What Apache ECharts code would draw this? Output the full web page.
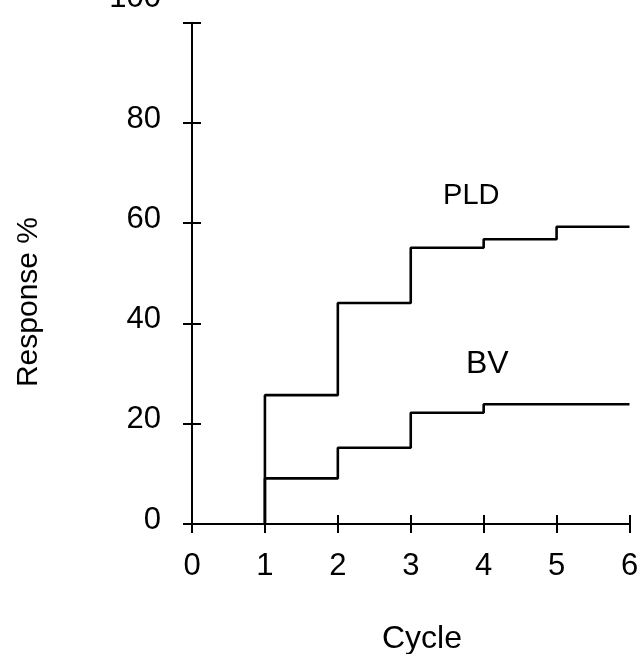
<!DOCTYPE html>
<html>
<head>
<meta charset="utf-8">
<script src="https://cdn.jsdelivr.net/npm/echarts@6/dist/echarts.min.js"></script>
<style>
html,body{margin:0;padding:0;background:#fff;}
#c{width:641px;height:654px;}
</style>
</head>
<body>
<div id="c"></div>
<script>
// Data
var cycles = [1, 2, 3, 4, 5, 6];
var pldResponse = [25.7, 44.1, 55.1, 56.8, 59.3, 59.3];
var bvResponse = [9.1, 15.2, 22.2, 23.9, 23.9, 23.9];
var yTicks = [0, 20, 40, 60, 80, 100];
var xTicks = [0, 1, 2, 3, 4, 5, 6];
var seriesNames = ['PLD', 'BV'];
var labelPos = { PLD: [3.83, 65.5], BV: [4.05, 31.8] };

var FONT = '"Liberation Sans", Arial, Helvetica, sans-serif';

function stepData(vals) {
  var d = [[cycles[0], 0]];
  for (var i = 0; i < cycles.length; i++) d.push([cycles[i], vals[i]]);
  return d;
}

var chart = echarts.init(document.getElementById('c'), null, { renderer: 'canvas' });

var axisLineStyle = { color: '#000', width: 2 };
var common = { type: 'value', splitLine: { show: false } };

function seriesLabel(name, pos, size) {
  return {
    symbol: 'circle', symbolSize: 2,
    itemStyle: { color: 'rgba(0,0,0,0)' },
    data: [{ coord: pos, value: name }],
    label: { show: true, position: 'inside', formatter: name, color: '#000', fontSize: size, fontFamily: FONT }
  };
}

var option = {
  backgroundColor: '#fff',
  animation: false,
  grid: { left: 192, right: 11.5, top: 22.7, bottom: 130, containLabel: false, outerBoundsMode: 'none' },
  xAxis: [
    Object.assign({}, common, {
      min: xTicks[0], max: xTicks[xTicks.length - 1], interval: 1,
      position: 'bottom',
      axisLine: { show: true, lineStyle: axisLineStyle },
      axisTick: { show: true, inside: false, length: 9, lineStyle: axisLineStyle },
      axisLabel: { margin: 27, color: '#000', fontSize: 31, fontFamily: FONT }
    }),
    Object.assign({}, common, {
      min: xTicks[0], max: xTicks[xTicks.length - 1], interval: 1,
      position: 'bottom', offset: 0,
      axisLine: { show: false },
      axisTick: { show: true, inside: true, length: 9, lineStyle: axisLineStyle },
      axisLabel: { show: false }
    })
  ],
  yAxis: [
    Object.assign({}, common, {
      min: yTicks[0], max: yTicks[yTicks.length - 1], interval: 20,
      position: 'left',
      axisLine: { show: true, lineStyle: axisLineStyle },
      axisTick: { show: true, inside: false, length: 9, lineStyle: axisLineStyle },
      axisLabel: {
        margin: 31, color: '#000', fontSize: 31, fontFamily: FONT,
        formatter: function (v) {
          return v === 100 ? '{up|' + v + '}' : '{n|' + v + '}';
        },
        rich: {
          n: { fontSize: 31, fontFamily: FONT, color: '#000', padding: [0, 0, 8, 0] },
          up: { fontSize: 31, fontFamily: FONT, color: '#000', padding: [0, 0, 48, 0] }
        }
      }
    }),
    Object.assign({}, common, {
      min: yTicks[0], max: yTicks[yTicks.length - 1], interval: 20,
      position: 'left', offset: 0,
      axisLine: { show: false },
      axisTick: { show: true, inside: true, length: 9, lineStyle: axisLineStyle },
      axisLabel: { show: false }
    })
  ],
  series: [
    {
      name: seriesNames[0], type: 'line', step: 'end',
      data: stepData(pldResponse),
      showSymbol: false, symbol: 'none',
      lineStyle: { color: '#000', width: 2.6 },
      markPoint: seriesLabel('PLD', labelPos.PLD, 29)
    },
    {
      name: seriesNames[1], type: 'line', step: 'end',
      data: stepData(bvResponse),
      showSymbol: false, symbol: 'none',
      lineStyle: { color: '#000', width: 2.6 },
      markPoint: seriesLabel('BV', labelPos.BV, 32)
    }
  ],
  graphic: [
    {
      type: 'text', x: 29, y: 302, rotation: Math.PI / 2,
      style: { text: 'Response %', fill: '#000', font: '30px ' + FONT, textAlign: 'center', textVerticalAlign: 'middle' }
    },
    {
      type: 'text', x: 422, y: 639,
      style: { text: 'Cycle', fill: '#000', font: '32px ' + FONT, textAlign: 'center', textVerticalAlign: 'middle' }
    }
  ]
};
chart.setOption(option);
</script>
</body>
</html>
